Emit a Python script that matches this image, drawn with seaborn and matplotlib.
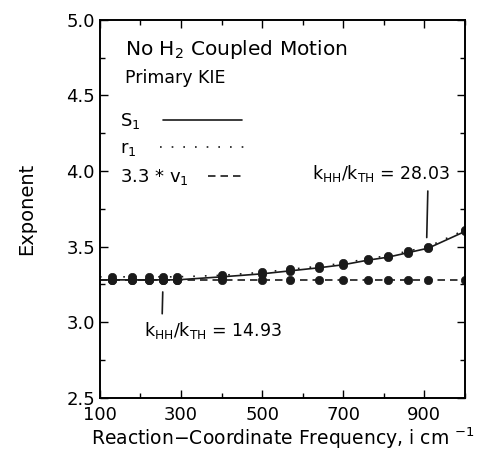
import numpy as np
import pandas as pd
import matplotlib
matplotlib.use('Agg')
import matplotlib.pyplot as plt
import seaborn as sns
from matplotlib.lines import Line2D
from matplotlib.legend import Legend
from matplotlib.ticker import MultipleLocator

# values (first point at 100 carries the line to the axis, no marker)
freq = [100, 130, 180, 220, 255, 290, 400, 500, 570, 640, 700, 760, 810, 860, 910, 1000]
s1 = [3.28, 3.28, 3.28, 3.28, 3.28, 3.28, 3.30, 3.32, 3.34, 3.36, 3.38, 3.41, 3.43, 3.46, 3.49, 3.60]
r1 = [3.30, 3.30, 3.30, 3.30, 3.30, 3.30, 3.31, 3.33, 3.35, 3.37, 3.39, 3.42, 3.44, 3.47, 3.50, 3.61]
v1 = [3.28] * 16

series_names = ['S$_1$', 'r$_1$', '3.3 * v$_1$']
series_styles = ['-', (0, (1, 6)), (0, (4.5, 3))]
handle_lengths = [4.4, 5.0, 2.0]
text_pads = [1.25, 1.3, 1.05]
xticks = [100, 300, 500, 700, 900]

sns.set_theme(style='ticks')
plt.rcParams['font.family'] = ['DejaVu Sans']
plt.rcParams['mathtext.default'] = 'regular'
for k in ['text.color', 'axes.labelcolor', 'xtick.color', 'ytick.color', 'axes.edgecolor']:
    plt.rcParams[k] = 'black'

fig = plt.figure(figsize=(5.02, 4.62), dpi=100)
ax = fig.add_axes([0.199, 0.139, 0.727, 0.818])

df = pd.DataFrame({'freq': freq, 'S1': s1, 'r1': r1, 'v1': v1})
marks = list(range(1, len(freq)))
for col, ls in zip(['v1', 'S1', 'r1'], [series_styles[2], series_styles[0], series_styles[1]]):
    sns.lineplot(data=df, x='freq', y=col, ax=ax, color='k', ls=ls, lw=1.2,
                 marker='o', ms=6, mec='k', mfc='k', mew=0.5, markevery=marks)

ax.set_xlim(100, 1000)
ax.set_ylim(2.5, 5.0)
ax.set_xticks(xticks)
ax.xaxis.set_minor_locator(MultipleLocator(100))
ax.yaxis.set_major_locator(MultipleLocator(0.5))
ax.yaxis.set_minor_locator(MultipleLocator(0.25))
ax.tick_params(which='both', direction='in', top=True, right=True,
               labelsize=13, width=1.0)
ax.tick_params(which='major', length=6)
ax.tick_params(which='minor', length=3.5)
ax.tick_params(axis='x', pad=6)
for sp in ax.spines.values():
    sp.set_linewidth(1.4)

ax.set_xlabel('Reaction\u2212Coordinate Frequency, i cm $^{\u22121}$', fontsize=13.5, labelpad=1)
ax.set_ylabel('Exponent', fontsize=14, labelpad=22)

ax.text(0.068, 0.907, 'No H$_2$ Coupled Motion', transform=ax.transAxes,
        fontsize=14.5, va='baseline')
ax.text(0.068, 0.833, 'Primary KIE', transform=ax.transAxes,
        fontsize=12.5, va='baseline')

# legend: labels on the left, line samples on the right, one box per row
tops = [0.759, 0.684, 0.611]
for name, ls, hl, tp, top in zip(series_names, series_styles, handle_lengths, text_pads, tops):
    h = Line2D([], [], color='k', ls=ls, lw=1.2)
    leg = Legend(ax, [h], [name], loc='upper left', bbox_to_anchor=(0.055, top),
                 frameon=False, markerfirst=False, handlelength=hl,
                 handletextpad=tp, borderpad=0, borderaxespad=0, fontsize=13)
    ax.add_artist(leg)

ax.annotate('k$_{HH}$/k$_{TH}$ = 28.03', xy=(906, 3.56), xytext=(623, 3.95),
            ha='left', va='baseline', fontsize=12.5,
            arrowprops=dict(arrowstyle='-', color='k', lw=1.2, relpos=(0.84, 0.0),
                            shrinkA=3, shrinkB=0))
ax.annotate('k$_{HH}$/k$_{TH}$ = 14.93', xy=(255, 3.20), xytext=(209, 2.91),
            ha='left', va='baseline', fontsize=12.5,
            arrowprops=dict(arrowstyle='-', color='k', lw=1.2, relpos=(0.13, 1.0),
                            shrinkA=2, shrinkB=0))

fig.savefig('out.png', dpi=100)
